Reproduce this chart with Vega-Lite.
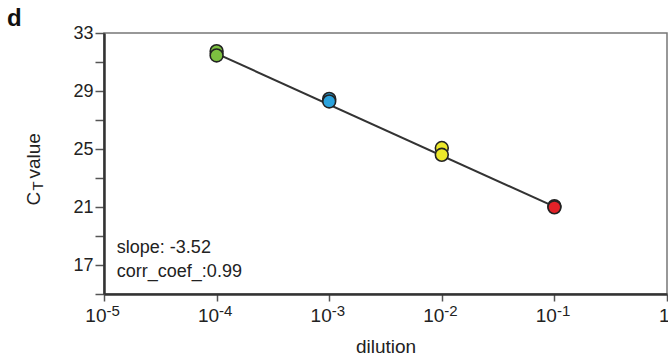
{
  "$schema": "https://vega.github.io/schema/vega-lite/v6.json",
  "width": 563,
  "height": 261,
  "autosize": {"type": "none"},
  "padding": {"left": 104, "top": 33, "right": 1, "bottom": 62},
  "background": "white",
  "config": {
    "font": "Liberation Sans",
    "view": {"stroke": "#777", "strokeWidth": 1.5},
    "axis": {"grid": false, "labelFont": "Liberation Sans", "titleFont": "Liberation Sans", "labelColor": "#222", "titleColor": "#222", "titleFontWeight": "normal"}
  },
  "title": {"text": "d", "anchor": "start", "frame": "group", "dx": -97, "dy": 26, "offset": 0, "baseline": "alphabetic", "fontSize": 24, "fontWeight": "bold", "color": "#111", "font": "Liberation Sans"},
  "datasets": {
    "pts": [
      {"dilution": 0.0001, "ct": 31.75, "grp": "g"},
      {"dilution": 0.0001, "ct": 31.45, "grp": "g"},
      {"dilution": 0.001, "ct": 28.45, "grp": "b"},
      {"dilution": 0.001, "ct": 28.28, "grp": "b"},
      {"dilution": 0.01, "ct": 25.07, "grp": "y"},
      {"dilution": 0.01, "ct": 24.6, "grp": "y"},
      {"dilution": 0.1, "ct": 21.06, "grp": "r"},
      {"dilution": 0.1, "ct": 20.98, "grp": "r"}
    ],
    "fit": [
      {"dilution": 0.0001, "ct": 31.58},
      {"dilution": 0.1, "ct": 21.02}
    ],
    "notes": [
      {"dilution": 1.3e-5, "ct": 18.15, "txt": "slope: -3.52"},
      {"dilution": 1.3e-5, "ct": 16.5, "txt": "corr_coef_:0.99"}
    ]
  },
  "resolve": {"axis": {"y": "independent", "x": "independent"}},
  "layer": [
    {
      "data": {"name": "fit"},
      "mark": {"type": "line", "color": "#333", "strokeWidth": 2},
      "encoding": {
        "x": {"field": "dilution", "type": "quantitative",
          "scale": {"type": "log", "domain": [0.00001, 1], "nice": false},
          "axis": {"values": [0.00001, 0.0001, 0.001, 0.01, 0.1, 1], "orient": "bottom",
            "labelExpr": "round(log(datum.value)/LN10) == 0 ? '1' : '10'",
            "labelAlign": "right", "labelOffset": 2, "labelBaseline": "top",
            "labelFontSize": 19, "labelPadding": 5, "tickSize": 7, "tickColor": "#555", "tickWidth": 1.5,
            "domainColor": "#333", "domainWidth": 2.5, "labelFlush": false, "labelOverlap": false,
            "title": "dilution", "titleFontSize": 19, "titlePadding": 3, "titleY": 58, "titleBaseline": "alphabetic"}},
        "y": {"field": "ct", "type": "quantitative",
          "scale": {"domain": [15, 33], "nice": false, "zero": false},
          "axis": {"orient": "left", "values": [15, 17, 19, 21, 23, 25, 27, 29, 31, 33],
            "labelExpr": "(datum.value - 17) % 4 == 0 ? datum.label : ''",
            "labelFontSize": 18, "labelPadding": 2, "tickSize": 9, "tickColor": "#555", "tickWidth": 1.5,
            "domainColor": "#333", "domainWidth": 2.5, "labelFlush": false, "labelOverlap": false,
            "title": "C", "titleFontSize": 19, "titleAngle": -90, "titleAlign": "left", "titleBaseline": "alphabetic",
            "titleX": -65, "titleY": 172}}
      }
    },
    {
      "data": {"name": "pts"},
      "mark": {"type": "circle", "size": 165, "opacity": 1, "stroke": "#222", "strokeWidth": 1.6},
      "encoding": {
        "x": {"field": "dilution", "type": "quantitative",
          "axis": {"values": [0.00001, 0.0001, 0.001, 0.01, 0.1], "orient": "bottom",
            "labelExpr": "'-' + (-round(log(datum.value)/LN10))",
            "labelAlign": "left", "labelOffset": 2, "labelBaseline": "top",
            "labelFontSize": 15, "labelPadding": 9, "ticks": false, "domain": false,
            "labelFlush": false, "labelOverlap": false, "title": null}},
        "y": {"field": "ct", "type": "quantitative",
          "axis": {"orient": "left", "labels": false, "ticks": false, "domain": false,
            "title": "T", "titleFontSize": 15, "titleAngle": -90, "titleAlign": "left", "titleBaseline": "alphabetic",
            "titleX": -62, "titleY": 157}},
        "color": {"field": "grp", "type": "nominal", "legend": null,
          "scale": {"domain": ["g", "b", "y", "r"], "range": ["#7cc040", "#2ba3dd", "#ece82a", "#e22228"]}}
      }
    },
    {
      "data": {"name": "notes"},
      "mark": {"type": "text", "align": "left", "baseline": "middle", "fontSize": 18, "color": "#222", "font": "Liberation Sans"},
      "encoding": {
        "x": {"field": "dilution", "type": "quantitative", "axis": null},
        "y": {"field": "ct", "type": "quantitative",
          "axis": {"orient": "left", "labels": false, "ticks": false, "domain": false,
            "title": "value", "titleFontSize": 19, "titleAngle": -90, "titleAlign": "left", "titleBaseline": "alphabetic",
            "titleX": -65, "titleY": 145}},
        "text": {"field": "txt"}
      }
    }
  ]
}
